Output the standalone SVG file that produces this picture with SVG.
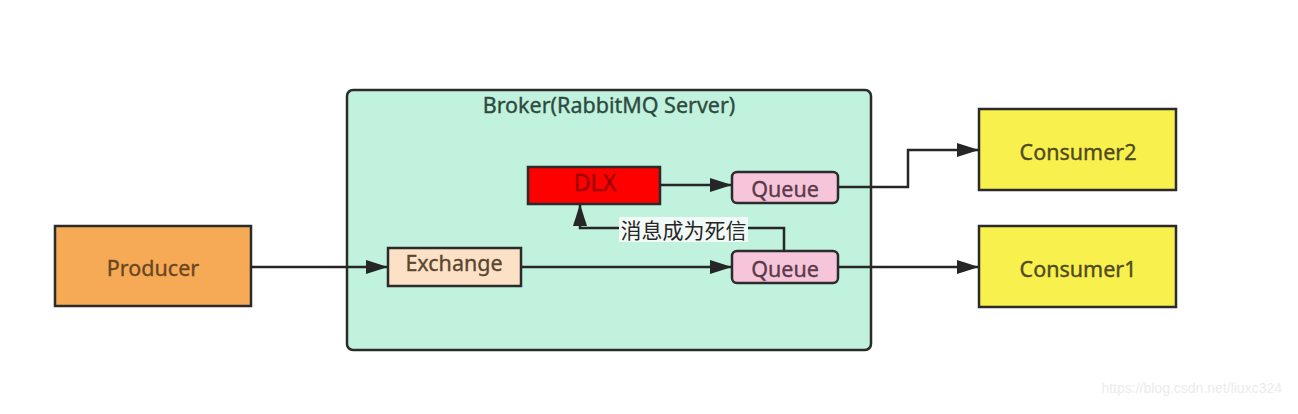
<svg xmlns="http://www.w3.org/2000/svg" width="1298" height="414" viewBox="0 0 1298 414">
<style>
.box{stroke:#2b2b2b;stroke-width:2.5}
.lbl{font-family:"Noto Sans","Open Sans","Liberation Sans",sans-serif;font-size:21.5px;text-anchor:middle;dominant-baseline:central;stroke-width:0.35}
.edge{fill:none;stroke:#262626;stroke-width:2.5}
</style>
<defs>
<marker id="ah" viewBox="0 0 22 14" refX="22" refY="7" markerWidth="22" markerHeight="14" markerUnits="userSpaceOnUse" orient="auto">
<path d="M0,0 L22,7 L0,14 Z" fill="#262626"/>
</marker>
</defs>
<rect width="1298" height="414" fill="#ffffff"/>
<g id="broker">
<rect class="box" x="347" y="90" width="524" height="260" rx="6" fill="#c0f2dd"/>
<text class="lbl" x="609" y="104" fill="#2e4a40" stroke="#2e4a40">Broker(RabbitMQ Server)</text>
</g>
<g id="producer">
<rect class="box" x="55" y="226" width="196" height="80" fill="#f6aa55"/>
<text class="lbl" x="153" y="267" fill="#6a4622" stroke="#6a4622">Producer</text>
</g>
<g id="exchange">
<rect class="box" x="388" y="248" width="133" height="38" fill="#fde1c6"/>
<text class="lbl" x="454" y="262" fill="#5a4630" stroke="#5a4630">Exchange</text>
</g>
<g id="dlx">
<rect class="box" x="528" y="167" width="132" height="37" fill="#ff0000"/>
<text class="lbl" x="595" y="182" fill="#9a0000" stroke="#9a0000" style="font-size:23px">DLX</text>
</g>
<g id="queue-dlx">
<rect class="box" x="732" y="172" width="106" height="31" rx="5" fill="#f6c5d9"/>
<text class="lbl" x="785" y="188" fill="#5a3a4a" stroke="#5a3a4a">Queue</text>
</g>
<g id="queue-main">
<rect class="box" x="732" y="251" width="106" height="32" rx="5" fill="#f6c5d9"/>
<text class="lbl" x="785" y="268" fill="#5a3a4a" stroke="#5a3a4a">Queue</text>
</g>
<g id="consumer2">
<rect class="box" x="979" y="109" width="197" height="81" fill="#f8f04c"/>
<text class="lbl" x="1078" y="151" fill="#4f4a22" stroke="#4f4a22">Consumer2</text>
</g>
<g id="consumer1">
<rect class="box" x="979" y="226" width="197" height="81" fill="#f8f04c"/>
<text class="lbl" x="1078" y="268" fill="#4f4a22" stroke="#4f4a22">Consumer1</text>
</g>
<g id="connectors">
<path class="edge" d="M251,267 H388" marker-end="url(#ah)"/>
<path class="edge" d="M521,267 H732" marker-end="url(#ah)"/>
<path class="edge" d="M660,185 H732" marker-end="url(#ah)"/>
<path class="edge" d="M838,187 H908 V150 H979" marker-end="url(#ah)"/>
<path class="edge" d="M838,267 H979" marker-end="url(#ah)"/>
<path class="edge" d="M784,251 V228 H580 V204" marker-end="url(#ah)"/>
<rect x="619" y="217" width="129" height="25" fill="#f2faf7"/>
<text class="lbl" x="683.5" y="229" fill="#262626" style="font-family:'Noto Sans CJK SC','Noto Sans',sans-serif;font-size:21px">消息成为死信</text>
</g>
<text x="1282" y="393" fill="#ececec" style="font-family:'Liberation Sans',sans-serif;font-size:14px;text-anchor:end">https://blog.csdn.net/liuxc324</text>
</svg>
